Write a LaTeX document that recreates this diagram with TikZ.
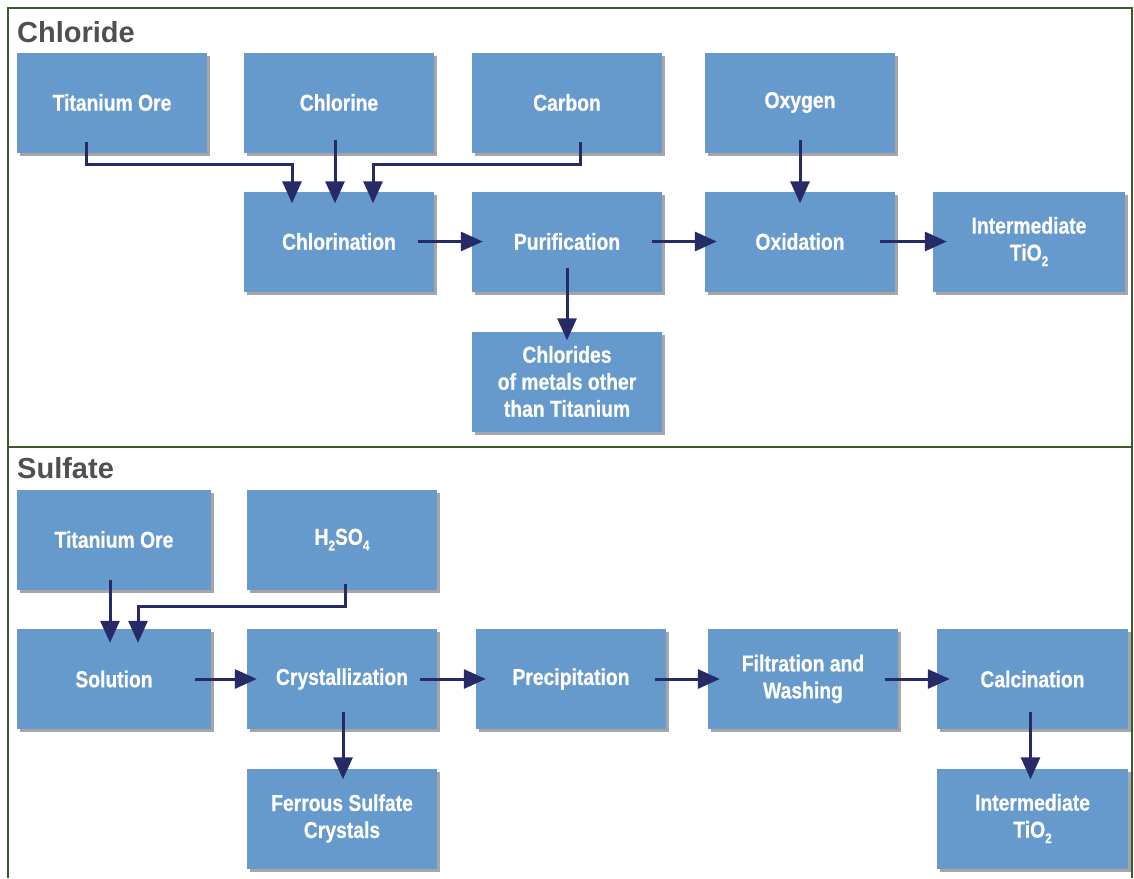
\documentclass[tikz,border=0pt]{standalone}
\usepackage{fontspec}
\setmainfont{Liberation Sans}
\newfontfamily\boxfont[FakeStretch=0.84,FakeBold=0.6]{Liberation Sans}
\usetikzlibrary{arrows.meta,shadows,calc}
\definecolor{boxblue}{HTML}{6699CC}
\definecolor{arrowblue}{HTML}{262A66}
\definecolor{framegreen}{HTML}{3D5A2D}
\definecolor{headgray}{HTML}{505050}
\newcommand{\lowsub}[1]{\raisebox{-0.45ex}{\fontsize{14}{14}\selectfont #1}}
\begin{document}
\begin{tikzpicture}[x=1pt,y=-1pt,
 box/.style={fill=boxblue, minimum width=190pt, minimum height=100pt, inner sep=0pt,
   text=white, font=\boxfont\bfseries\fontsize{23}{27}\selectfont, align=center,
   drop shadow={shadow xshift=3pt,shadow yshift=-3pt,fill=black,opacity=0.35}},
 flow/.style={draw=arrowblue, line width=3pt, -{Triangle[width=19pt,length=22pt]}},
 head/.style={font=\bfseries\fontsize{29}{34}\selectfont, text=headgray, inner sep=0pt, anchor=base west},
 frame/.style={draw=framegreen, line width=2pt}]
\useasboundingbox (0,0) rectangle (1134,878);
\fill[white] (0,0) rectangle (1134,878);
% frame
\draw[frame] (8,878) -- (8,8) -- (1132,8) -- (1132,878);
\draw[frame] (8,447) -- (1132,447);
% headings
\node[head] (hchl) at (17,42) {Chloride};
\node[head] (hsul) at (17,478) {Sulfate};
% chloride nodes
\node[box] (tore) at (112,102.5) {Titanium Ore};
\node[box] (chlo) at (339,102.5) {Chlorine};
\node[box] (carb) at (567,102.5) {Carbon};
\node[box] (oxy)  at (800,102.5) {Oxygen};
\node[box] (chlor) at (339,241.5) {Chlorination};
\node[box] (puri) at (567,241.5) {Purification};
\node[box] (oxid) at (800,241.5) {Oxidation};
\node[box, minimum width=192pt] (int1) at (1029,241.5) {Intermediate\\TiO\lowsub{2}};
\node[box] (clm) at (567,381.5) {Chlorides\\of metals other\\than Titanium};
% sulfate nodes
\node[box, minimum width=194pt] (tore2) at (114,539.5) {Titanium Ore};
\node[box] (hso) at (342,539.5) {H\lowsub{2}SO\lowsub{4}};
\node[box, minimum width=194pt] (sol) at (114,679) {Solution};
\node[box] (cry) at (342,679) {Crystallization};
\node[box] (pre) at (571,679) {Precipitation};
\node[box] (fil) at (803,679) {Filtration and\\Washing};
\node[box, minimum width=191pt] (cal) at (1032.5,679) {Calcination};
\node[box] (fer) at (342,818.5) {Ferrous Sulfate\\Crystals};
\node[box, minimum width=191pt] (int2) at (1032.5,818.5) {Intermediate\\TiO\lowsub{2}};
% chloride connectors
\draw[flow] ([xshift=-26pt,yshift=11pt]tore.south) -- ++(0,23) -| ([xshift=-47pt,yshift=-12pt]chlor.north);
\draw[flow] ([xshift=-4pt,yshift=13pt]chlo.south) -- ([xshift=-4pt,yshift=-12pt]chlor.north);
\draw[flow] ([xshift=13pt,yshift=11pt]carb.south) -- ++(0,23) -| ([xshift=34pt,yshift=-12pt]chlor.north);
\draw[flow] ([yshift=13pt]oxy.south) -- ([yshift=-12pt]oxid.north);
\draw[flow] ([xshift=-16pt]chlor.east) -- ([xshift=11pt]puri.west);
\draw[flow] ([xshift=-10pt]puri.east) -- ([xshift=12pt]oxid.west);
\draw[flow] ([xshift=-15pt]oxid.east) -- ([xshift=14pt]int1.west);
\draw[flow] ([yshift=24pt]puri.south) -- ([yshift=-9pt]clm.north);
% sulfate connectors
\draw[flow] ([xshift=-4pt,yshift=10pt]tore2.south) -- ([xshift=-4pt,yshift=-14pt]sol.north);
\draw[flow] ([xshift=3pt,yshift=6pt]hso.south) -- ++(0,23) -| ([xshift=24pt,yshift=-14pt]sol.north);
\draw[flow] ([xshift=-16pt]sol.east) -- ([xshift=10pt]cry.west);
\draw[flow] ([xshift=-17pt]cry.east) -- ([xshift=10pt]pre.west);
\draw[flow] ([xshift=-11pt]pre.east) -- ([xshift=12pt]fil.west);
\draw[flow] ([xshift=-13pt]fil.east) -- ([xshift=13pt]cal.west);
\draw[flow] ([xshift=1pt,yshift=17pt]cry.south) -- ([xshift=1pt,yshift=-11pt]fer.north);
\draw[flow] ([xshift=-2pt,yshift=17pt]cal.south) -- ([xshift=-2pt,yshift=-11pt]int2.north);
\end{tikzpicture}
\end{document}
